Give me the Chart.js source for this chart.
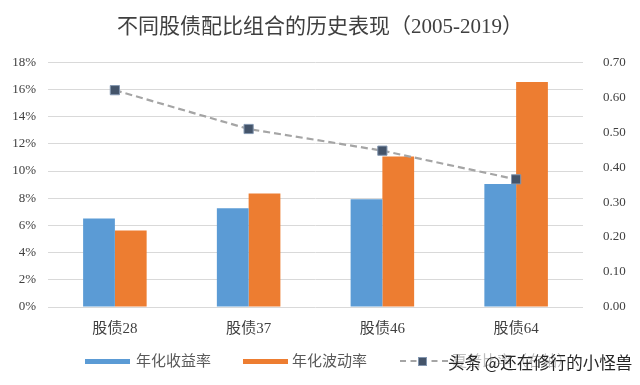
<!DOCTYPE html>
<html><head><meta charset="utf-8">
<script src="https://cdn.jsdelivr.net/npm/chart.js@4"></script>
<style>
html,body{margin:0;padding:0;background:#fff;}
#wrap{position:relative;width:640px;height:385px;}
#legend{position:absolute;top:351px;left:0;width:640px;height:20px;font-family:"Liberation Serif","Noto Sans CJK SC",serif;font-size:15px;color:#595959;}
.li{position:absolute;top:0;height:20px;line-height:20px;white-space:nowrap;}
.box{position:absolute;top:8px;height:5px;}
#wm{position:absolute;top:352px;left:448px;font-family:"Noto Sans CJK SC",sans-serif;font-size:16.5px;line-height:20px;color:#262626;white-space:nowrap;}
</style></head>
<body><div id="wrap"><canvas id="c" width="640" height="385"></canvas>
<div id="legend">
 <div class="li" style="left:85px"><div class="box" style="left:0;width:45px;background:#5b9bd5"></div><span style="position:absolute;left:51px">年化收益率</span></div>
 <div class="li" style="left:243px"><div class="box" style="left:0;width:45px;background:#ed7d31"></div><span style="position:absolute;left:49px">年化波动率</span></div>
 <div class="li" style="left:400px"><div style="position:absolute;top:9px;left:0;width:48px;border-top:2px dashed #a5a5a5"></div><div style="position:absolute;top:6px;left:18px;width:7px;height:7px;background:#44546a;border:1px solid #8497b0"></div><span style="position:absolute;left:52px;color:#bfbfbf">夏普比率（右轴）</span></div>
</div>
<div id="wm">头条 @还在修行的小怪兽</div>
</div>
<script>
const categories = ["股债28","股债37","股债46","股债64"];
const annualReturn = [6.5, 7.26, 7.93, 9.04];
const annualVolatility = [5.63, 8.35, 11.06, 16.54];
const sharpeRatio = [0.62, 0.509, 0.447, 0.365];
const leftTicks = [0,2,4,6,8,10,12,14,16,18];
const rightTicks = [0,0.1,0.2,0.3,0.4,0.5,0.6,0.7];
const titleText = "不同股债配比组合的历史表现（2005-2019）";

const fontFam = '"Liberation Serif","Noto Sans CJK SC",serif';
Chart.defaults.font.family = fontFam;
Chart.defaults.color = '#595959';

new Chart(document.getElementById('c'), {
  data: {
    labels: categories,
    datasets: [
      {type:'line', label:'夏普比率（右轴）', data: sharpeRatio, yAxisID:'y1', borderColor:'#a5a5a5', borderWidth:2.2, borderDash:[7,4], pointStyle:'rect', pointRadius:6.5, pointBackgroundColor:'#44546a', pointBorderColor:'#8497b0', pointBorderWidth:1, fill:false, order:0},
      {type:'bar', label:'年化收益率', data: annualReturn, yAxisID:'y', backgroundColor:'#5b9bd5', categoryPercentage:0.475, barPercentage:1.0, order:1},
      {type:'bar', label:'年化波动率', data: annualVolatility, yAxisID:'y', backgroundColor:'#ed7d31', categoryPercentage:0.475, barPercentage:1.0, order:1}
    ]
  },
  options: {
    responsive:false, animation:false,
    layout:{padding:{left:0,right:0,top:0,bottom:42}},
    plugins:{
      legend:{display:false},
      tooltip:{enabled:false},
      title:{display:true, text:titleText, color:'#404040', font:{size:21, family:fontFam, weight:'normal', lineHeight:1.2}, padding:{top:15,bottom:22}}
    },
    scales:{
      x:{grid:{display:false}, border:{display:false}, ticks:{font:{size:15}, color:'#404040', padding:5}},
      y:{position:'left', min:0, max:18, afterBuildTicks:(a)=>{a.ticks = leftTicks.map(v=>({value:v}));},
         afterFit:(a)=>{a.width = 48;},
         ticks:{callback:(v)=>v+'%', font:{size:13}, color:'#404040', padding:12},
         grid:{color:'#d9d9d9', lineWidth:1, drawTicks:false}, border:{display:false}},
      y1:{position:'right', min:0, max:0.7, afterBuildTicks:(a)=>{a.ticks = rightTicks.map(v=>({value:v}));},
         afterFit:(a)=>{a.width = 57;},
         ticks:{callback:(v)=>v.toFixed(2), font:{size:13}, color:'#404040', padding:12},
         grid:{display:false}, border:{display:false}}
    }
  }
});
</script>
</body></html>
